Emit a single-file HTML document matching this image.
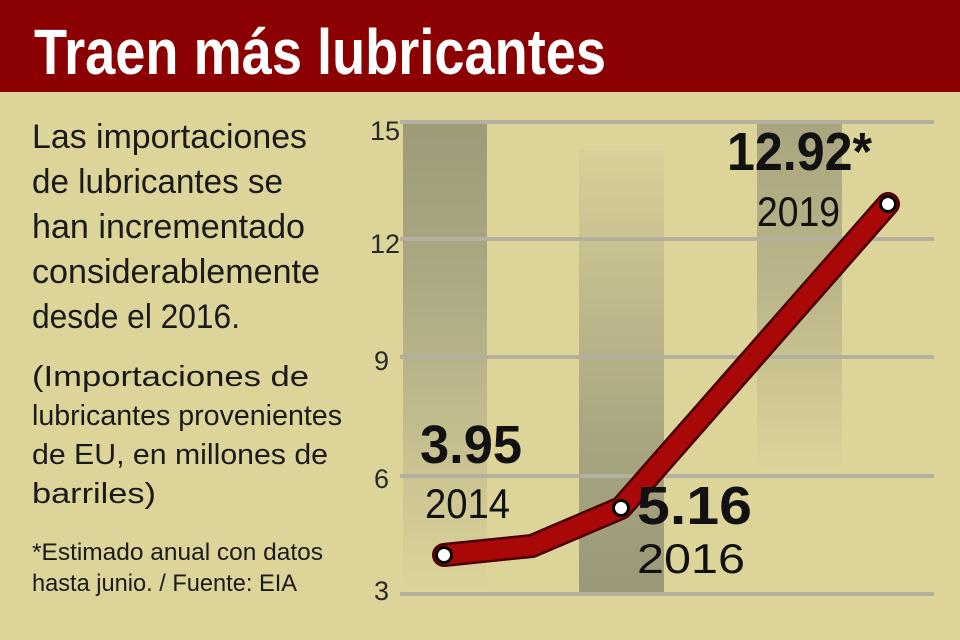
<!DOCTYPE html>
<html><head><meta charset="utf-8"><style>
html,body{margin:0;padding:0;width:960px;height:640px;overflow:hidden;background:#ddd49a}
svg{display:block}
text{font-family:"Liberation Sans Narrow","Liberation Sans",sans-serif}
</style></head><body>
<svg width="960" height="640" viewBox="0 0 960 640">
<defs>
<linearGradient id="g1" x1="0" y1="0" x2="0" y2="1"><stop offset="0" stop-color="#9d9a77"/><stop offset="0.35" stop-color="#aca983"/><stop offset="1" stop-color="#ddd49a"/></linearGradient>
<linearGradient id="g2" x1="0" y1="0" x2="0" y2="1"><stop offset="0" stop-color="#d8d098"/><stop offset="0.65" stop-color="#a8a580"/><stop offset="1" stop-color="#9a9878"/></linearGradient>
<linearGradient id="g3" x1="0" y1="0" x2="0" y2="1"><stop offset="0" stop-color="#a8a47e"/><stop offset="0.5" stop-color="#bcb78a"/><stop offset="1" stop-color="#ddd49a"/></linearGradient>
</defs>
<rect x="0" y="0" width="960" height="640" fill="#ddd49a"/>
<rect x="0" y="0" width="960" height="92" fill="#8b0000"/>
<text x="34" y="74" font-size="64" font-weight="bold" fill="#fff" textLength="572" lengthAdjust="spacingAndGlyphs">Traen más lubricantes</text>

<g fill="#1a1a1a" font-size="34">
<text x="32" y="148" textLength="275" lengthAdjust="spacingAndGlyphs">Las importaciones</text>
<text x="32" y="193" textLength="251" lengthAdjust="spacingAndGlyphs">de lubricantes se</text>
<text x="32" y="238" textLength="273" lengthAdjust="spacingAndGlyphs">han incrementado</text>
<text x="32" y="283" textLength="288" lengthAdjust="spacingAndGlyphs">considerablemente</text>
<text x="32" y="328" textLength="208" lengthAdjust="spacingAndGlyphs">desde el 2016.</text>
</g>
<g fill="#1a1a1a" font-size="29">
<text x="32" y="386" textLength="277" lengthAdjust="spacingAndGlyphs">(Importaciones de</text>
<text x="32" y="425" textLength="310" lengthAdjust="spacingAndGlyphs">lubricantes provenientes</text>
<text x="32" y="464" textLength="296" lengthAdjust="spacingAndGlyphs">de EU, en millones de</text>
<text x="32" y="503" textLength="124" lengthAdjust="spacingAndGlyphs">barriles)</text>
</g>
<g fill="#1a1a1a" font-size="24">
<text x="32" y="560" textLength="291" lengthAdjust="spacingAndGlyphs">*Estimado anual con datos</text>
<text x="32" y="591" textLength="265" lengthAdjust="spacingAndGlyphs">hasta junio. / Fuente: EIA</text>
</g>

<rect x="403" y="122" width="84" height="470" fill="url(#g1)"/>
<rect x="579" y="150" width="85" height="442" fill="url(#g2)"/>
<rect x="757" y="122" width="85" height="350" fill="url(#g3)"/>

<g stroke="#b3b0a0" stroke-width="4">
<line x1="400" y1="122" x2="934" y2="122"/>
<line x1="400" y1="239" x2="934" y2="239"/>
<line x1="400" y1="357" x2="934" y2="357"/>
<line x1="400" y1="476" x2="934" y2="476"/>
<line x1="400" y1="594" x2="934" y2="594"/>
</g>
<g fill="#2a2a2a" font-size="27">
<text x="370" y="140">15</text>
<text x="370" y="253">12</text>
<text x="374" y="370">9</text>
<text x="374" y="488">6</text>
<text x="374" y="600">3</text>
</g>

<polyline points="444,555 532,546 621,508 888,204" fill="none" stroke="#4a0000" stroke-width="24" stroke-linejoin="round" stroke-linecap="round"/>
<polyline points="444,555 532,546 621,508 888,204" fill="none" stroke="#a80808" stroke-width="19" stroke-linejoin="round" stroke-linecap="round"/>
<g fill="#fff" stroke="#000" stroke-width="3">
<circle cx="444" cy="555" r="7.5"/>
<circle cx="621" cy="508" r="7.5"/>
<circle cx="888" cy="204" r="7.5"/>
</g>

<g fill="#111">
<text x="420" y="463" font-size="54" font-weight="bold" textLength="102" lengthAdjust="spacingAndGlyphs">3.95</text>
<text x="425" y="518" font-size="42" textLength="85" lengthAdjust="spacingAndGlyphs">2014</text>
<text x="637" y="524" font-size="54" font-weight="bold" textLength="115" lengthAdjust="spacingAndGlyphs">5.16</text>
<text x="637" y="573" font-size="42" textLength="108" lengthAdjust="spacingAndGlyphs">2016</text>
<text x="727" y="170" font-size="54" font-weight="bold" textLength="145" lengthAdjust="spacingAndGlyphs">12.92*</text>
<text x="757" y="226" font-size="42" textLength="83" lengthAdjust="spacingAndGlyphs">2019</text>
</g>
</svg>
</body></html>
